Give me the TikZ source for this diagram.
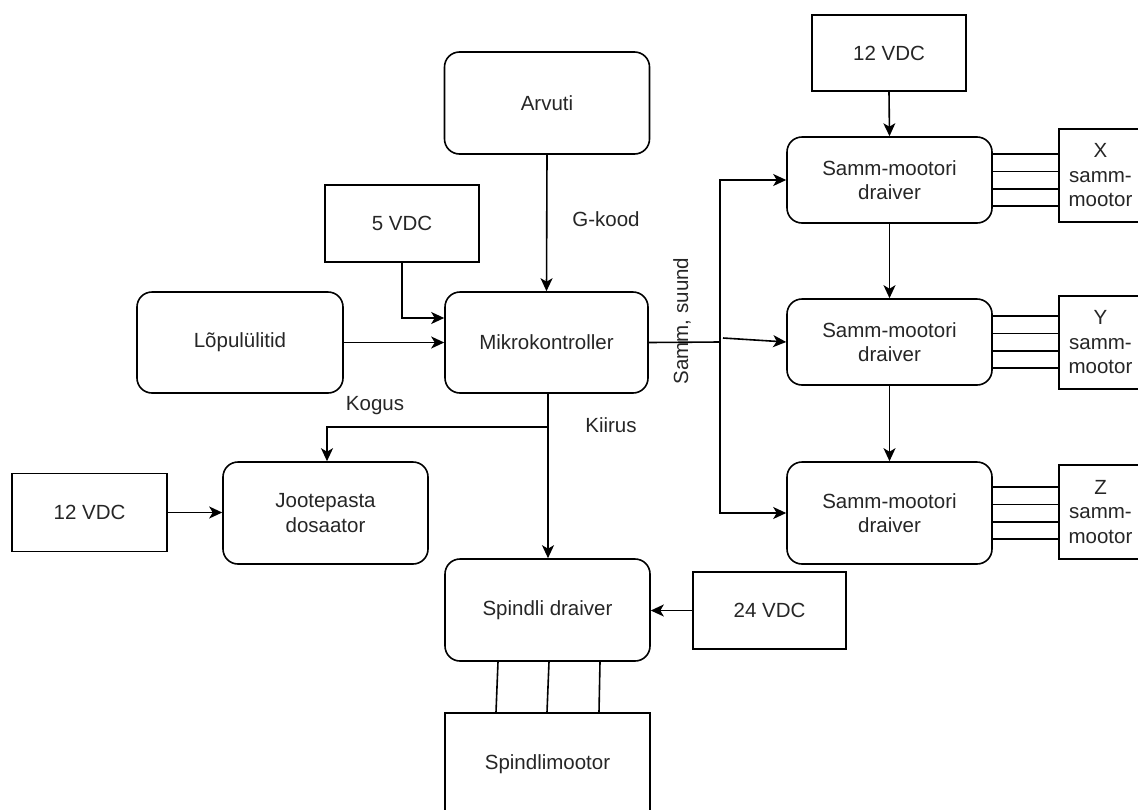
\documentclass[tikz,border=0pt]{standalone}
\usepackage{fontspec}
\setmainfont{Liberation Sans}
\usetikzlibrary{arrows.meta,calc}
\begin{document}
\begin{tikzpicture}[x=1pt,y=-1pt,
  every node/.style={font=\fontsize{20.5}{24.5}\selectfont, text=black!85},
  rbox/.style={draw, line width=1.6pt, rounded corners=15pt, align=center, inner sep=0pt},
  sbox/.style={draw, line width=1.6pt, align=center, inner sep=0pt},
  wire/.style={line width=1.6pt},
  arr/.style={line width=1.6pt, -{Stealth[length=13pt,width=12pt,inset=3.5pt]}},
  lbl/.style={inner sep=0pt}
]
\useasboundingbox (0,0) rectangle (1138,809);
\clip (0,0) rectangle (1138,809);
\fill[white] (0,0) rectangle (1138,809);

% boxes
\node[rbox, minimum width=205pt, minimum height=102pt] (arvuti) at (547,103) {Arvuti};
\node[rbox, minimum width=203pt, minimum height=101pt] (mikro) at (546.5,342.5) {Mikrokontroller};
\node[rbox, minimum width=206pt, minimum height=101pt] (lopu) at (240,342.5) {Lõpulülitid};
\node[sbox, minimum width=154pt, minimum height=77pt] (v5) at (402,223.5) {5 VDC};
\node[rbox, minimum width=205pt, minimum height=102pt] (joote) at (325.5,513) {Jootepasta\\dosaator};
\node[sbox, minimum width=155pt, minimum height=78pt] (v12a) at (89.5,512.5) {12 VDC};
\node[rbox, minimum width=205pt, minimum height=102pt] (spd) at (547.5,610) {Spindli draiver};
\node[sbox, minimum width=153pt, minimum height=77pt] (v24) at (769.5,610.5) {24 VDC};
\node[sbox, minimum width=205pt, minimum height=102pt] (spm) at (547.5,764) {Spindlimootor};
\node[sbox, minimum width=154pt, minimum height=76pt] (v12b) at (889,53) {12 VDC};
\node[rbox, minimum width=205pt, minimum height=86pt] (d1) at (889.5,180) {Samm-mootori\\draiver};
\node[rbox, minimum width=205pt, minimum height=86pt] (d2) at (889.5,342) {Samm-mootori\\draiver};
\node[rbox, minimum width=205pt, minimum height=102pt] (d3) at (889.5,513) {Samm-mootori\\draiver};
\node[sbox, minimum width=83pt, minimum height=93pt] (mX) at (1100.5,175.5) {X\\samm-\\mootor};
\node[sbox, minimum width=83pt, minimum height=93pt] (mY) at (1100.5,342.5) {Y\\samm-\\mootor};
\node[sbox, minimum width=83pt, minimum height=94pt] (mZ) at (1100.5,512) {Z\\samm-\\mootor};

% labels
\node[lbl] (lg) at (606,219) {G-kood};
\node[lbl] (lk) at (375,406) {Kogus};
\node[lbl] (lki) at (611,425) {Kiirus};
\node[lbl, rotate=90] (ls) at (682,321) {Samm, suund};

% connectors
\draw[arr] (arvuti.south) -- (mikro.north);
\draw[arr] (v5.south) |- ([yshift=24.5pt]mikro.west);
\draw[arr] (lopu.east) -- (mikro.west);
\coordinate (br) at (548,427);
\coordinate (jl) at (327,427);
\draw[arr] ([xshift=1.5pt]mikro.south) -- ([xshift=0.5pt]spd.north);
\draw[arr] (br) -- (jl) -- (jl |- joote.north);
\coordinate (jn) at (720,342);
\draw[wire] (mikro.east) -- (jn);
\draw[arr] (jn) |- (d1.west);
\draw[arr] (jn) |- (d3.west);
\draw[arr] ([shift={(3pt,4pt)}]jn) -- (d2.west);
\draw[arr] (v12b.south) -- (d1.north);
\draw[arr] (d1.south) -- (d2.north);
\draw[arr] (d2.south) -- (d3.north);
\draw[arr] (v12a.east) -- (v12a.east -| joote.west);
\draw[arr] (v24.west) -- (v24.west -| spd.east);

% motor wires
\foreach \d/\m in {d1/mX, d2/mY, d3/mZ}{
  \foreach \o in {26,8.7,-8.7,-26}{
    \draw[wire] ([yshift=\o pt]\d.east) -- ([yshift=\o pt]\d.east -| \m.west);
  }
}
% spindle wires
\draw[wire] ([xshift=-49.5pt]spd.south) -- ([xshift=-51.5pt]spm.north);
\draw[wire] ([xshift=1.5pt]spd.south) -- ([xshift=-0.5pt]spm.north);
\draw[wire] ([xshift=52.5pt]spd.south) -- ([xshift=51.5pt]spm.north);
\end{tikzpicture}
\end{document}
